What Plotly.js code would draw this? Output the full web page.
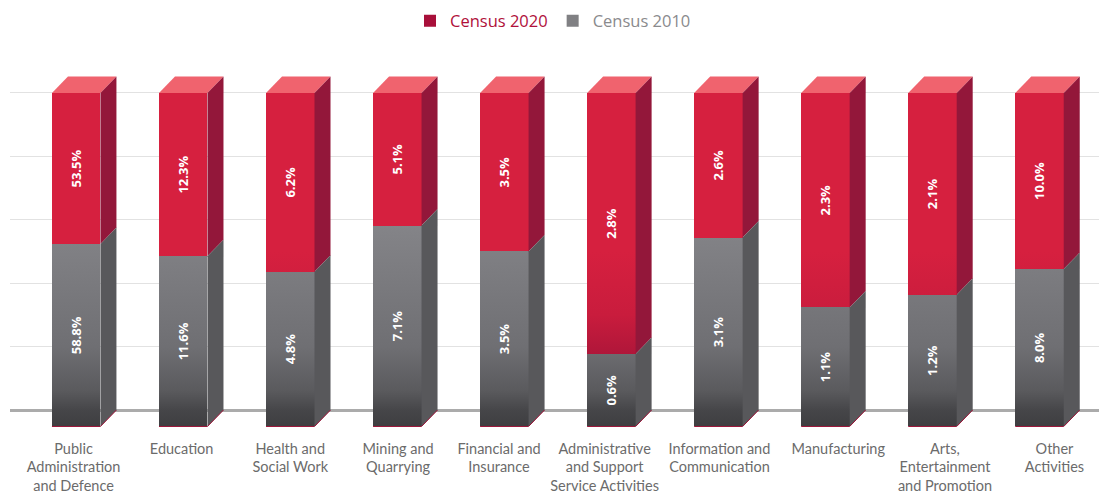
<!DOCTYPE html>
<html>
<head>
<meta charset="utf-8">
<script src="https://cdn.plot.ly/plotly-3.0.1.min.js"></script>
<style>
  html, body { margin: 0; padding: 0; background: #ffffff; }
  #chart { width: 1099px; height: 494px; }
</style>
</head>
<body>
<div id="chart"></div>
<script>
// ---------------- data ----------------
const categories = [
  'Public<br>Administration<br>and Defence',
  'Education',
  'Health and<br>Social Work',
  'Mining and<br>Quarrying',
  'Financial and<br>Insurance',
  'Administrative<br>and Support<br>Service Activities',
  'Information and<br>Communication',
  'Manufacturing',
  'Arts,<br>Entertainment<br>and Promotion',
  'Other<br>Activities'
];
const census2020 = [53.5, 12.3, 6.2, 5.1, 3.5, 2.8, 2.6, 2.3, 2.1, 10.0];
const census2010 = [58.8, 11.6, 4.8, 7.1, 3.5, 0.6, 3.1, 1.1, 1.2, 8.0];
const seriesNames = ['Census 2020', 'Census 2010'];

// ---------------- style / geometry ----------------
const FONT = 'Open Sans, Noto Sans, sans-serif';
const LABEL_FONT = 'Lato, Open Sans, sans-serif';
const BAR_W = 0.453;      // front face width (x units)
const DX = 0.1495;        // 3D depth in x units
const DY = 5.2;           // 3D depth in y units
const FLOOR = 5.2;        // front face extends below zero by this much
const labelNudge = [-0.025, -0.015, 0, 0.007, -0.05, -0.063, 0.01, 0.12, 0.117, 0.14];

const idx = categories.map((_, i) => i);
const share2010 = census2010.map((v, i) => v / (v + census2020[i]) * 100);

const grayTrace = {
  type: 'bar', x: idx, base: share2010.map(() => -FLOOR),
  y: share2010.map(s => s + FLOOR), width: BAR_W,
  marker: { color: '#6a6a6e', line: { width: 0 } },
  text: census2010.map(v => v.toFixed(1) + '%'),
  textposition: 'inside', insidetextanchor: 'middle', textangle: -90,
  textfont: { color: '#ffffff', size: 13, family: FONT, weight: 700 },
  showlegend: false, hoverinfo: 'skip', name: seriesNames[1]
};
const redTrace = {
  type: 'bar', x: idx, base: share2010,
  y: share2010.map(s => 100 - s), width: BAR_W,
  marker: { color: '#d51f3f', line: { width: 0 } },
  text: census2020.map(v => v.toFixed(1) + '%'),
  textposition: 'inside', insidetextanchor: 'middle', textangle: -90,
  textfont: { color: '#ffffff', size: 13, family: FONT, weight: 700 },
  showlegend: false, hoverinfo: 'skip', name: seriesNames[0]
};
const legend2020 = {
  type: 'bar', x: [null], y: [null], marker: { color: '#a8103a' },
  name: '<span style="color:#b0103a">' + seriesNames[0] + '</span>', showlegend: true
};
const legend2010 = {
  type: 'bar', x: [null], y: [null], marker: { color: '#808083' },
  name: '<span style="color:#8a8a8d">' + seriesNames[1] + '</span>', showlegend: true
};

// 3D faces
const shapes = [];
idx.forEach(i => {
  const xl = i - BAR_W / 2, xr = i + BAR_W / 2, s = share2010[i];
  shapes.push({ type: 'path', xref: 'x', yref: 'y', layer: 'above',
    path: `M${xl},100 L${xr},100 L${xr + DX},${100 + DY} L${xl + DX},${100 + DY} Z`,
    fillcolor: '#f0636e', line: { width: 0 } });
  shapes.push({ type: 'path', xref: 'x', yref: 'y', layer: 'above',
    path: `M${xr},${s} L${xr + DX},${s + DY} L${xr + DX},${100 + DY} L${xr},100 Z`,
    fillcolor: '#93173a', line: { width: 0 } });
  shapes.push({ type: 'path', xref: 'x', yref: 'y', layer: 'above',
    path: `M${xr},${-FLOOR} L${xr + DX},${-FLOOR + DY} L${xr + DX},${s + DY} L${xr},${s} Z`,
    fillcolor: '#58585b', line: { width: 0 } });
  shapes.push({ type: 'path', xref: 'x', yref: 'y', layer: 'above',
    path: `M${xl},${-FLOOR} L${xr},${-FLOOR} L${xr + DX},${-FLOOR + DY}`,
    line: { color: '#9a1236', width: 1 } });
});

const layout = {
  width: 1099, height: 494,
  margin: { l: 10, r: 0, t: 50, b: 62 },
  paper_bgcolor: '#ffffff', plot_bgcolor: 'rgba(0,0,0,0)',
  barmode: 'overlay', bargap: 0,
  font: { family: FONT, color: '#666666' },
  showlegend: true,
  legend: {
    orientation: 'h', xref: 'container', yref: 'container',
    x: 553 / 1099, xanchor: 'center', y: 1 - 21 / 494, yanchor: 'middle',
    font: { size: 16.5, family: FONT }, traceorder: 'normal'
  },
  xaxis: {
    range: [-0.6185, 9.556], showgrid: false, zeroline: false, showline: false,
    tickvals: idx.map(i => i + labelNudge[i]), ticktext: categories,
    tickfont: { size: 14.5, color: '#6b6b6b', family: LABEL_FONT }, ticks: '',
    ticklabelstandoff: 6, fixedrange: true
  },
  yaxis: {
    range: [-6.94, 113.56], dtick: 20, tick0: 0, showticklabels: false,
    gridcolor: '#e2e2e2', gridwidth: 1,
    zeroline: true, zerolinecolor: '#ababab', zerolinewidth: 3, fixedrange: true
  },
  shapes: shapes,
  hovermode: false
};

Plotly.newPlot('chart', [grayTrace, redTrace, legend2020, legend2010], layout, { displayModeBar: false, staticPlot: true })
.then(gd => {
  const ya = gd._fullLayout.yaxis;
  const svg = gd.querySelector('svg.main-svg');
  const NS = 'http://www.w3.org/2000/svg';
  let defs = svg.querySelector('defs');
  if (!defs) { defs = document.createElementNS(NS, 'defs'); svg.insertBefore(defs, svg.firstChild); }
  function makeGrad(id, stops) {
    const g = document.createElementNS(NS, 'linearGradient');
    g.setAttribute('id', id);
    g.setAttribute('gradientUnits', 'userSpaceOnUse');
    const yTop = ya.l2p(stops[0][0]), yBot = ya.l2p(stops[stops.length - 1][0]);
    g.setAttribute('x1', 0); g.setAttribute('x2', 0);
    g.setAttribute('y1', yTop); g.setAttribute('y2', yBot);
    stops.forEach(([v, c]) => {
      const st = document.createElementNS(NS, 'stop');
      st.setAttribute('offset', ((ya.l2p(v) - yTop) / (yBot - yTop)).toFixed(4));
      st.setAttribute('stop-color', c);
      g.appendChild(st);
    });
    defs.appendChild(g);
  }
  makeGrad('grayGrad', [[60, '#858589'], [20, '#6f6f73'], [6, '#5a5a5d'], [0, '#464649'], [-FLOOR, '#3e3e40']]);
  makeGrad('redGrad', [[50, '#d6203f'], [30, '#c91c3d'], [15, '#aa1539']]);
  const traces = gd.querySelectorAll('.barlayer .trace');
  traces[0].querySelectorAll('.point path').forEach(p => { p.style.fill = 'url(#grayGrad)'; });
  traces[1].querySelectorAll('.point path').forEach(p => { p.style.fill = 'url(#redGrad)'; });
});
</script>
</body>
</html>
